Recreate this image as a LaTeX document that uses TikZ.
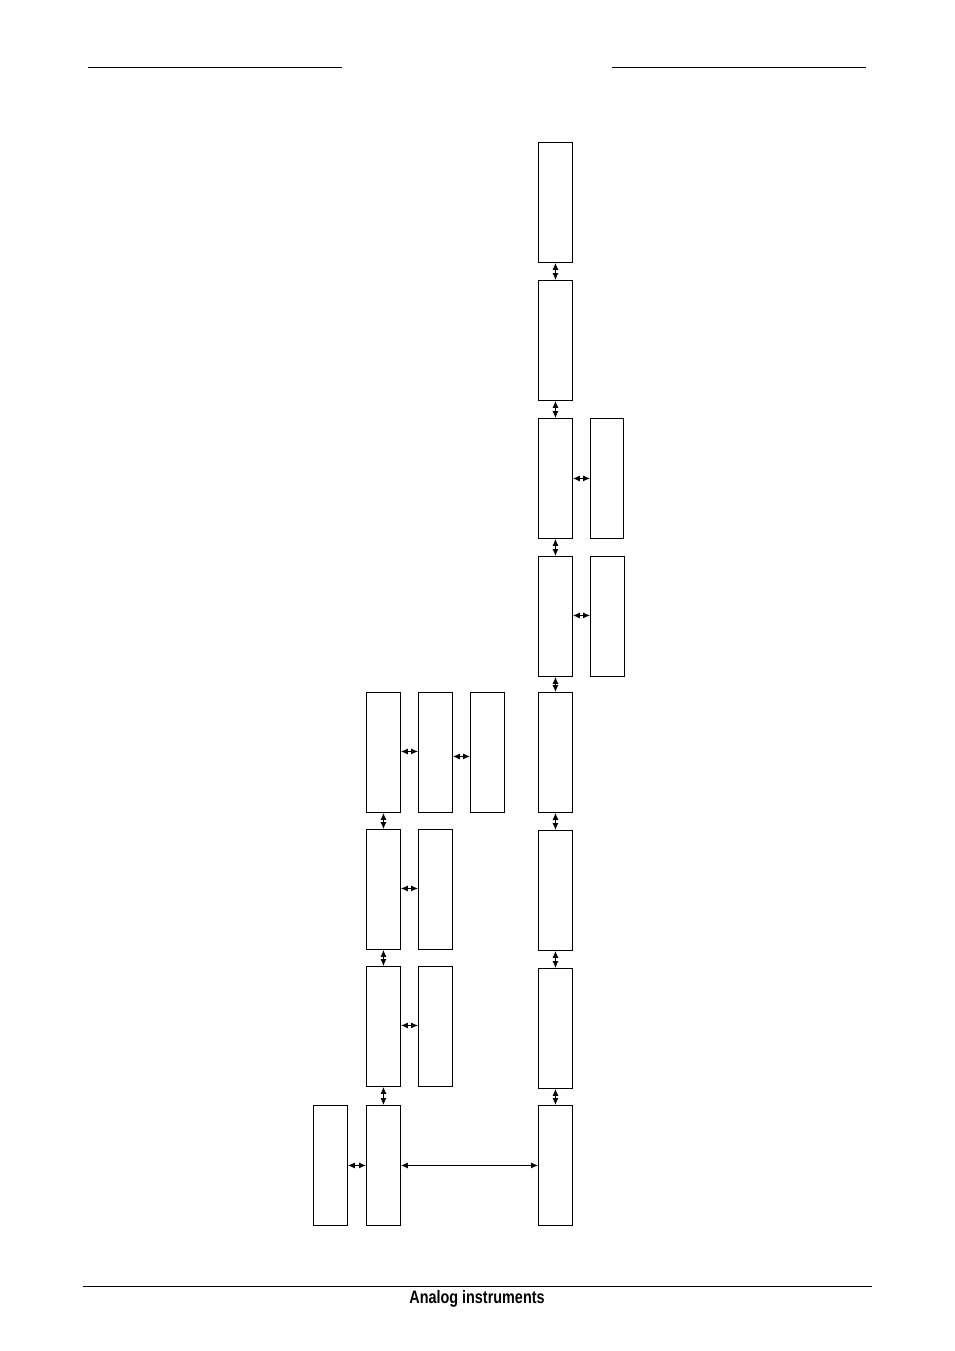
\documentclass[tikz,border=0pt]{standalone}
\usepackage{fontspec}
\setmainfont{Liberation Sans}
\usetikzlibrary{arrows.meta}
\begin{document}
\begin{tikzpicture}[x=1pt,y=-1pt,
  box/.style={draw,line width=0.9pt,minimum width=34pt,minimum height=120pt,inner sep=0pt,anchor=north west},
  dbl/.style={{Latex[length=7pt,width=6pt]}-{Latex[length=7pt,width=6pt]},line width=0.9pt},
  rule/.style={line width=1pt}]
\useasboundingbox (0,0) rectangle (954,1351);
% header/footer
\coordinate (h1a) at (88,68); \coordinate (h1b) at (342,68);
\coordinate (h2a) at (612,68); \coordinate (h2b) at (866,68);
\coordinate (fa) at (83,1286); \coordinate (fb) at (872,1286);
\draw[rule] (h1a) -- (h1b);
\draw[rule] (h2a) -- (h2b);
\draw[line width=0.8pt] (fa) -- (fb);
\node[inner sep=0pt] (title) at (477,1299) {\scalebox{0.8}[1]{\fontsize{18}{18}\selectfont\bfseries Analog instruments}};
% main column
\node[box] (m1) at (538,142) {};
\node[box] (m2) at (538,280) {};
\node[box] (m3) at (538,418) {};
\node[box] (m4) at (538,556) {};
\node[box] (m5) at (538,692) {};
\node[box] (m6) at (538,830) {};
\node[box] (m7) at (538,968) {};
\node[box] (m8) at (538,1105) {};
\node[box,minimum width=33pt] (s3) at (590,418) {};
\node[box] (s4) at (590,556) {};
% left columns
\node[box] (l1) at (366,692) {};
\node[box] (l2) at (366,829) {};
\node[box] (l3) at (366,966) {};
\node[box] (l4) at (366,1105) {};
\node[box] (a1) at (418,692) {};
\node[box] (a2) at (418,829) {};
\node[box] (a3) at (418,966) {};
\node[box] (b1) at (470,692) {};
\node[box] (c4) at (313,1105) {};
% vertical arrows
\foreach \u/\v in {m1/m2,m2/m3,m3/m4,m4/m5,m5/m6,m6/m7,m7/m8,l1/l2,l2/l3,l3/l4}
  \draw[dbl] (\u.south) -- (\v.north);
% horizontal arrows
\draw[dbl] (m3.east) -- (s3.west);
\draw[dbl] ([yshift=1pt]m4.east) -- ([yshift=1pt]s4.west);
\draw[dbl] ([yshift=1pt]l1.east) -- ([yshift=1pt]a1.west);
\draw[dbl] ([yshift=-4pt]a1.east) -- ([yshift=-4pt]b1.west);
\draw[dbl] ([yshift=1pt]l2.east) -- ([yshift=1pt]a2.west);
\draw[dbl] ([yshift=1pt]l3.east) -- ([yshift=1pt]a3.west);
\draw[dbl] (c4.east) -- (l4.west);
\draw[dbl] (l4.east) -- (m8.west);
\end{tikzpicture}
\end{document}
